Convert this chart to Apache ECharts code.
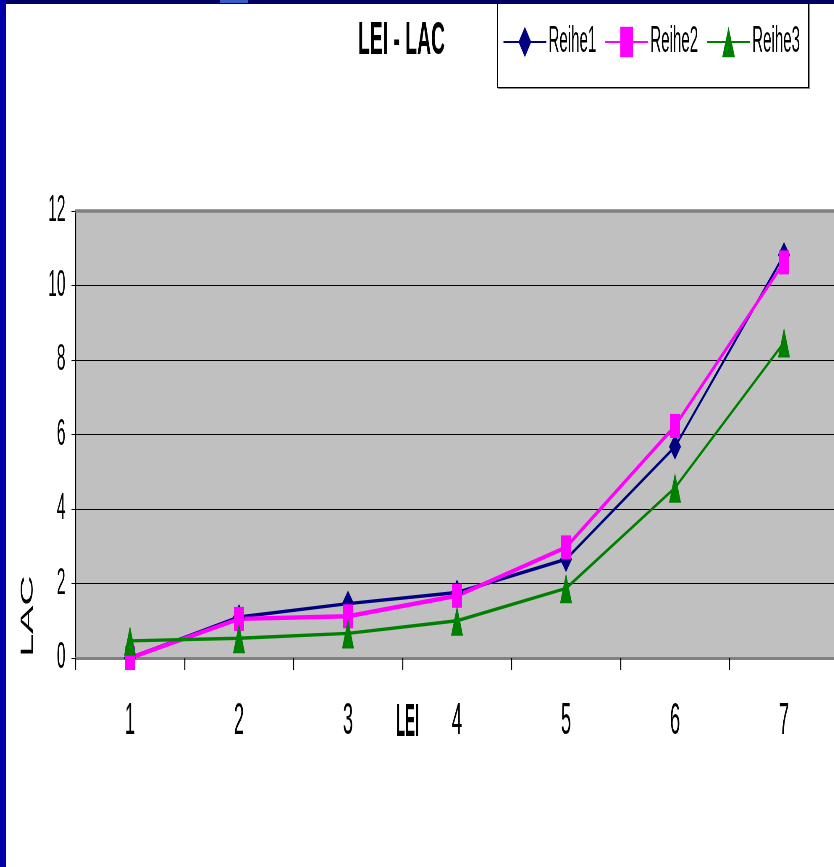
<!DOCTYPE html>
<html>
<head>
<meta charset="utf-8">
<script src="https://cdn.jsdelivr.net/npm/echarts@6/dist/echarts.min.js"></script>
<style>
  html, body { margin: 0; padding: 0; width: 834px; height: 867px; overflow: hidden; background: #fff; }
  #wrap { position: absolute; left: 0; top: 0; width: 834px; height: 867px; overflow: hidden; }
  /* the chart is laid out wide and squeezed horizontally, like the condensed original;
     the plot runs past the right edge and is clipped by #wrap */
  #chart { position: absolute; left: 0; top: 0; width: 2100px; height: 867px; transform: scaleX(0.42); transform-origin: 0 0; }
  #frameLeft { position: absolute; left: 0; top: 0; width: 6px; height: 867px; background: #0000a8; }
  #frameTop { position: absolute; left: 0; top: 0; width: 834px; height: 4px; background: #000060; }
  #frameTopHi { position: absolute; left: 220px; top: 0; width: 28px; height: 3px; background: #3a5cc8; }
  #legendBox { position: absolute; left: 497px; top: -2px; width: 310px; height: 88px; border: 1px solid #000; box-shadow: 1px 1px 0 #888; }
</style>
</head>
<body>
<div id="wrap">
  <div id="chart"></div>
  <div id="legendBox"></div>
  <div id="frameTop"></div>
  <div id="frameTopHi"></div>
  <div id="frameLeft"></div>
</div>
<script>
  // horizontal squeeze factor applied to the chart canvas
  const SX = 0.42;
  const px = v => v / SX;

  const categories = ['1', '2', '3', '4', '5', '6', '7'];
  const reihe1 = [0, 1.1, 1.46, 1.76, 2.65, 5.67, 10.82];
  const reihe2 = [0, 1.05, 1.12, 1.67, 2.97, 6.23, 10.62];
  const reihe3 = [0.46, 0.53, 0.66, 1.0, 1.87, 4.57, 8.47];
  const seriesNames = ['Reihe1', 'Reihe2', 'Reihe3'];
  const yMin = 0, yMax = 12, yStep = 2;

  const FONT = 'Liberation Sans';
  const chart = echarts.init(document.getElementById('chart'), null, { renderer: 'canvas', width: 2100, height: 867 });

  chart.setOption({
    animation: false,
    backgroundColor: 'transparent',
    title: {
      text: 'LEI - LAC',
      left: px(358),
      top: 18,
      padding: 0,
      textStyle: { fontFamily: FONT, fontSize: 46, fontWeight: 'bold', color: '#000' }
    },
    legend: {
      data: seriesNames,
      left: px(503),
      top: 24,
      padding: 0,
      itemWidth: px(45) - 5,
      itemHeight: 38,
      itemGap: px(8.5),
      textStyle: { fontFamily: FONT, fontSize: 36, color: '#000' }
    },
    grid: {
      left: px(75.5),
      top: 211,
      width: px(763),
      height: 447,
      show: true,
      backgroundColor: '#c0c0c0',
      borderWidth: 0
    },
    xAxis: [{
      type: 'category',
      data: categories,
      boundaryGap: true,
      axisLine: { show: true, lineStyle: { color: '#808080', width: 3 } },
      axisTick: { show: true, interval: 0, length: 12, lineStyle: { color: '#000', width: px(1) } },
      axisLabel: { margin: 42, fontFamily: FONT, fontSize: 44, color: '#000' },
      splitLine: { show: false }
    }, {
      type: 'category',
      data: categories,
      position: 'top',
      axisLine: { show: true, lineStyle: { color: '#808080', width: 3.5 } },
      axisTick: { show: false },
      axisLabel: { show: false },
      splitLine: { show: false }
    }],
    yAxis: {
      type: 'value',
      min: yMin, max: yMax, interval: yStep,
      axisLine: { show: true, lineStyle: { color: '#000', width: px(1) } },
      axisTick: { show: true, length: px(4), lineStyle: { color: '#000', width: 1 } },
      axisLabel: { margin: px(10), fontFamily: FONT, fontSize: 37, color: '#000' },
      splitLine: { show: true, lineStyle: { color: '#000', width: 1 } }
    },
    graphic: [{
      type: 'text',
      x: px(396),
      y: 700,
      scaleX: 0.77,
      style: { text: 'LEI', font: 'bold 46px "Liberation Sans"', fill: '#000' }
    }, {
      type: 'text',
      x: px(19),
      y: 657,
      rotation: Math.PI / 2,
      style: { text: 'LAC', font: '42px "Liberation Sans"', fill: '#000' }
    }],
    series: [{
      name: 'Reihe1',
      type: 'line',
      data: reihe1,
      color: '#000080',
      symbol: 'diamond',
      symbolSize: [px(12), 26],
      lineStyle: { width: 3.4, color: '#000080' },
      itemStyle: { color: '#000080' }
    }, {
      name: 'Reihe2',
      type: 'line',
      data: reihe2,
      color: '#ff00ff',
      symbol: 'rect',
      symbolSize: [px(10), 24],
      lineStyle: { width: 4.4, color: '#ff00ff' },
      itemStyle: { color: '#ff00ff' }
    }, {
      name: 'Reihe3',
      type: 'line',
      data: reihe3,
      color: '#008000',
      symbol: 'triangle',
      symbolSize: [px(12), 30],
      lineStyle: { width: 3.4, color: '#008000' },
      itemStyle: { color: '#008000' }
    }]
  });
</script>
</body>
</html>
